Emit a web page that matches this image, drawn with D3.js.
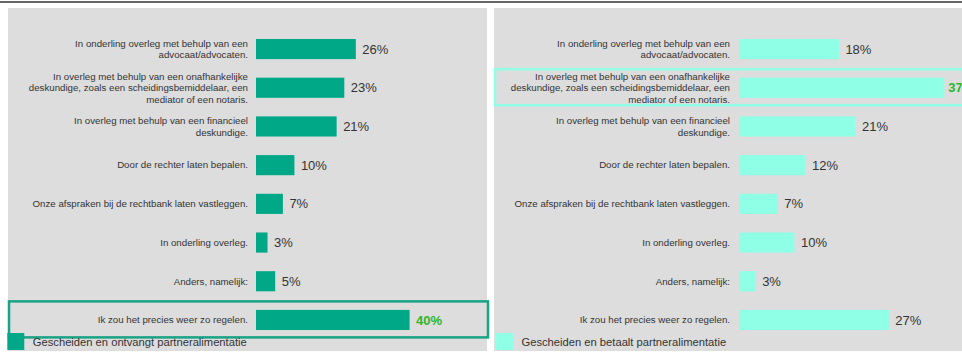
<!DOCTYPE html>
<html>
<head>
<style>
  body { margin: 0; background: #fff; }
  svg { display: block; font-family: "Liberation Sans", Arial, sans-serif; }
  .cat { font-size: 9.7px; fill: #333; text-anchor: end; }
  .val { font-size: 13px; fill: #333; }
  .val.hi { fill: #2db52d; font-weight: bold; }
  .legend { font-size: 11.2px; fill: #333; }
</style>
</head>
<body>
<svg width="962" height="356"></svg>
<script src="https://d3js.org/d3.v7.min.js"></script>
<script>
// categories (line breaks as in the original labels)
var categories = [
  "In onderling overleg met behulp van een\nadvocaat/advocaten.",
  "In overleg met behulp van een onafhankelijke\ndeskundige, zoals een scheidingsbemiddelaar, een\nmediator of een notaris.",
  "In overleg met behulp van een financieel\ndeskundige.",
  "Door de rechter laten bepalen.",
  "Onze afspraken bij de rechtbank laten vastleggen.",
  "In onderling overleg.",
  "Anders, namelijk:",
  "Ik zou het precies weer zo regelen."
];
var receives = [26, 23, 21, 10, 7, 3, 5, 40];
var pays = [18, 37, 21, 12, 7, 10, 3, 27];

var svg = d3.select("svg");

// top rule
svg.append("rect").attr("x", 0).attr("y", 1).attr("width", 962).attr("height", 2).attr("fill", "#666");

var y = d3.scaleBand()
  .domain(categories)
  .range([29.7, 339.3])
  .paddingInner(0.48)
  .paddingOuter(0.24);

var panels = [
  { x0: 8, x1: 487, labelX: 248, values: receives, color: "#00a887", box: "#17a384",
    x: d3.scaleLinear().domain([0, 100]).range([256, 640]), hi: 7, legX: 7.3, valGap: 6.5,
    legend: "Gescheiden en ontvangt partneralimentatie" },
  { x0: 494, x1: 962, labelX: 730, values: pays, color: "#8fffe6", box: "#8fffe6",
    x: d3.scaleLinear().domain([0, 100]).range([739, 1294]), hi: 1, legX: 496, valGap: 4,
    legend: "Gescheiden en betaalt partneralimentatie" }
];

panels.forEach(function(p) {
  var g = svg.append("g");
  g.append("rect")
    .attr("x", p.x0).attr("y", 8)
    .attr("width", p.x1 - p.x0).attr("height", 343)
    .attr("fill", "#dddddd");

  // category labels
  var lab = g.selectAll("text.cat")
    .data(categories)
    .enter().append("text")
    .attr("class", "cat")
    .attr("x", p.labelX)
    .attr("y", function(d) { return y(d) + y.bandwidth() / 2; });
  lab.each(function(d) {
    var lines = d.split("\n");
    var t = d3.select(this);
    lines.forEach(function(l, i) {
      t.append("tspan")
        .attr("x", p.labelX)
        .attr("dy", i === 0 ? ((-(lines.length - 1) / 2) * 11.5 + 3.3) + "px" : "11.5px")
        .text(l);
    });
  });

  // bars
  g.selectAll("rect.bar")
    .data(p.values)
    .enter().append("rect")
    .attr("class", "bar")
    .attr("x", p.x(0))
    .attr("y", function(d, i) { return y(categories[i]); })
    .attr("width", function(d) { return p.x(d) - p.x(0); })
    .attr("height", y.bandwidth())
    .attr("fill", p.color);

  // values
  g.selectAll("text.val")
    .data(p.values)
    .enter().append("text")
    .attr("class", function(d, i) { return i === p.hi ? "val hi" : "val"; })
    .attr("x", function(d, i) { return p.x(d) + (i === p.hi ? p.valGap : 6.5); })
    .attr("y", function(d, i) { return y(categories[i]) + y.bandwidth() / 2 + 4.6; })
    .text(function(d) { return d + "%"; });

  // highlight box
  var hy = y(categories[p.hi]);
  g.append("rect")
    .attr("x", p.x0 + 1).attr("y", hy - 8.5)
    .attr("width", p.x1 - p.x0).attr("height", 36)
    .attr("fill", "none")
    .attr("stroke", p.box)
    .attr("stroke-width", 2.5);

  // legend
  g.append("rect")
    .attr("x", p.legX).attr("y", 333)
    .attr("width", 17).attr("height", 17)
    .attr("fill", p.color);
  g.append("text")
    .attr("class", "legend")
    .attr("x", p.legX + 25.5)
    .attr("y", 346)
    .text(p.legend);
});
</script>
</body>
</html>
